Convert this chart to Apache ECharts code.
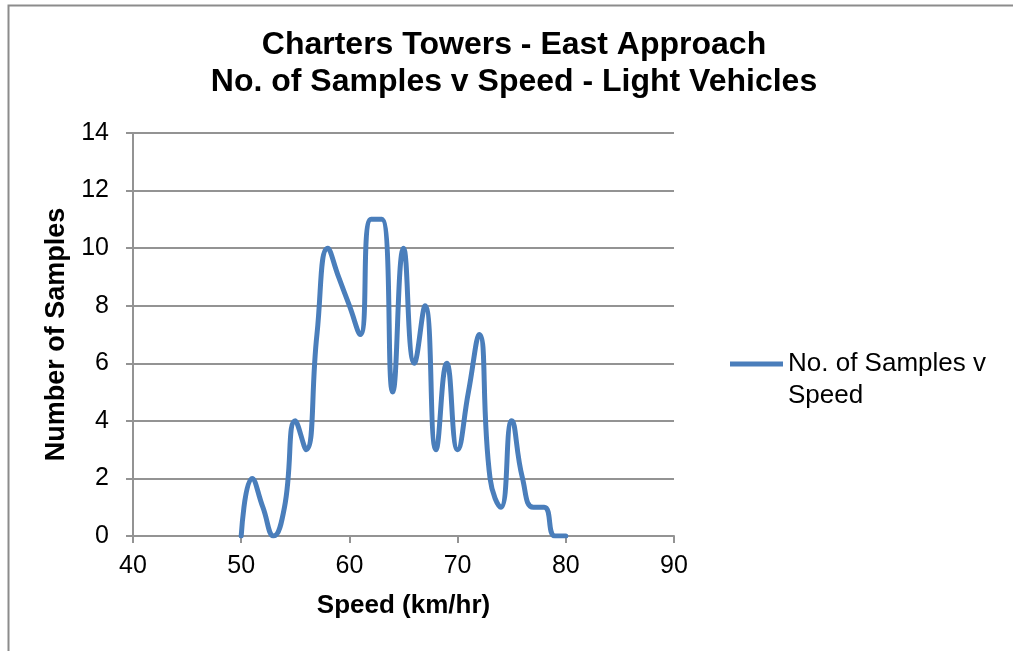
<!DOCTYPE html>
<html>
<head>
<meta charset="utf-8">
<script src="https://cdn.jsdelivr.net/npm/echarts@6/dist/echarts.min.js"></script>
<style>
  html, body { margin: 0; padding: 0; background: #fff; }
  #chart { width: 1013px; height: 651px; }
</style>
</head>
<body>
<div id="chart"></div>
<script>
// Speed bins (km/hr) and number of light-vehicle samples in each
const speeds  = [50, 51, 52, 53, 54, 55, 56, 57, 58, 59, 60, 61, 62, 63, 64, 65,
                 66, 67, 68, 69, 70, 71, 72, 73, 74, 75, 76, 77, 78, 79, 80];
const samples = [0, 2, 1, 0, 1, 4, 3, 7, 10, 9, 8, 7, 11, 11, 5, 10,
                 6, 8, 3, 6, 3, 5, 7, 2, 1, 4, 2, 1, 1, 0, 0];

const seriesName = 'No. of Samples v\nSpeed';
const titleLines = ['Charters Towers - East Approach', 'No. of Samples v Speed - Light Vehicles'];
const xName = 'Speed (km/hr)';
const yName = 'Number of Samples';

const font = '"Liberation Sans", Arial, sans-serif';
const axisGray = '#939393';
const lineBlue = '#4a7ebb';

const chart = echarts.init(document.getElementById('chart'), null, { renderer: 'canvas' });

chart.setOption({
  backgroundColor: '#fff',
  animation: false,
  title: {
    text: titleLines.join('\n'),
    left: 509,
    top: 22,
    textAlign: 'center',
    textStyle: { fontFamily: font, fontSize: 32, fontWeight: 'bold', color: '#000', lineHeight: 37 }
  },
  graphic: [{
    type: 'rect',
    shape: { x: 8.5, y: 5.5, width: 1020, height: 700 },
    style: { fill: 'none', stroke: '#8c8c8c', lineWidth: 2 },
    silent: true,
    z: -1
  }],
  legend: {
    left: 730,
    top: 316,
    padding: 0,
    orient: 'vertical',
    itemWidth: 53,
    itemHeight: 14,
    itemGap: 5,
    icon: 'path://M0,0 L53,0 L53,5 L0,5 Z',
    // an empty first line keeps the line swatch level with the first text line
    formatter: (name) => '\u00a0\n' + name,
    textStyle: { fontFamily: font, fontSize: 26, color: '#000', lineHeight: 32 },
    data: [seriesName]
  },
  grid: { left: 133, top: 133, width: 541, height: 403, containLabel: false },
  xAxis: {
    type: 'value',
    min: 40, max: 90, interval: 10,
    name: xName,
    nameLocation: 'middle',
    nameGap: 57,
    nameTextStyle: { fontFamily: font, fontSize: 26, fontWeight: 'bold', color: '#000' },
    axisLine: { show: true, lineStyle: { color: axisGray, width: 2 } },
    axisTick: { show: true, length: 7, lineStyle: { color: axisGray, width: 2 } },
    axisLabel: { fontFamily: font, fontSize: 25, color: '#000', margin: 18 },
    splitLine: { show: false }
  },
  yAxis: {
    type: 'value',
    min: 0, max: 14, interval: 2,
    name: yName,
    nameLocation: 'middle',
    nameGap: 58,
    nameTextStyle: { fontFamily: font, fontSize: 27, fontWeight: 'bold', color: '#000' },
    axisLine: { show: true, lineStyle: { color: axisGray, width: 2 } },
    axisTick: { show: true, length: 7, lineStyle: { color: axisGray, width: 2 } },
    axisLabel: { fontFamily: font, fontSize: 25, color: '#000', margin: 24 },
    splitLine: { show: true, lineStyle: { color: axisGray, width: 2 } }
  },
  series: [{
    name: seriesName,
    type: 'line',
    data: speeds.map((s, i) => [s, samples[i]]),
    smooth: 0.5,
    symbol: 'none',
    lineStyle: { color: lineBlue, width: 5, cap: 'round', join: 'round' },
    itemStyle: { color: lineBlue }
  }]
});
</script>
</body>
</html>
